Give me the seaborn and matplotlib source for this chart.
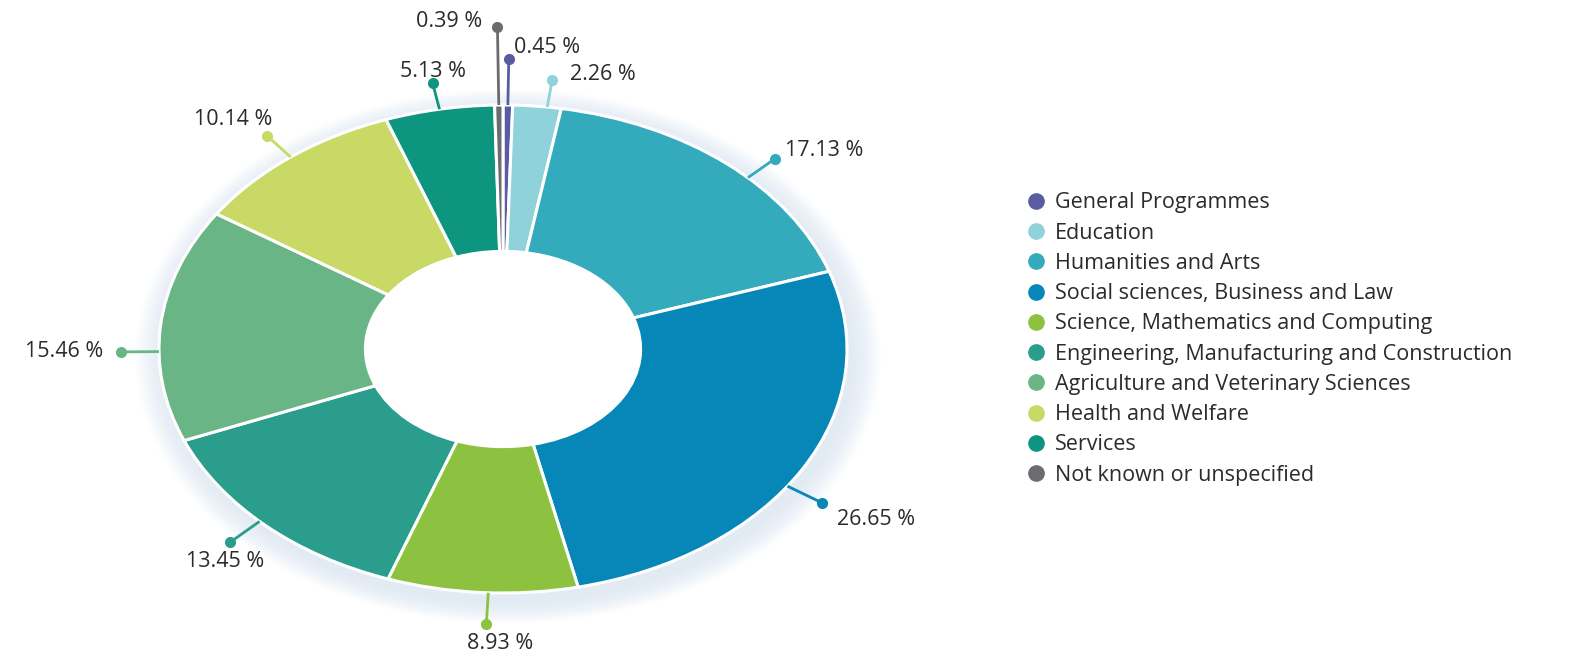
import numpy as np
import matplotlib.pyplot as plt
import seaborn as sns
from matplotlib.lines import Line2D
from matplotlib.patches import Ellipse

# Dados do gráfico (percentuais por área de estudo)
categorias = [
    "General Programmes",
    "Education",
    "Humanities and Arts",
    "Social sciences, Business and Law",
    "Science, Mathematics and Computing",
    "Engineering, Manufacturing and Construction",
    "Agriculture and Veterinary Sciences",
    "Health and Welfare",
    "Services",
    "Not known or unspecified",
]
valores = [0.45, 2.26, 17.13, 26.65, 8.93, 13.45, 15.46, 10.14, 5.13, 0.39]
rotulos = ["0.45 %", "2.26 %", "17.13 %", "26.65 %", "8.93 %",
           "13.45 %", "15.46 %", "10.14 %", "5.13 %", "0.39 %"]

cores = ["#5a5ca3", "#8fd2dc", "#34aabd", "#0787b8", "#8cc23f",
         "#2a9d8c", "#69b585", "#c8d966", "#0e957f", "#6b6c70"]

# Posição dos marcadores de rótulo: raio, desvio angular (graus, horário)
raio_rotulo = [1.19, 1.11, 1.11, 1.12, 1.13, 1.12, 1.11, 1.11, 1.11, 1.32]
desvio_ang = [0, 1.7, 4.8, 4.8, -1, 1.3, -6.4, 0, 0, 0]
# Deslocamento do texto em pontos e alinhamento
desloc_texto = [(4, 8), (13, 4), (7, 6), (11, -12), (10, -14),
                (-4, -14), (-13, 0), (4, 12), (0, 8), (-11, 4)]
alinh_texto = ["left", "left", "left", "left", "center",
               "center", "right", "right", "center", "right"]

sns.set_theme(style="white")
plt.rcParams["font.family"] = ["Open Sans", "DejaVu Sans"]

fig = plt.figure(figsize=(15.9, 6.56), dpi=100)
fig.patch.set_facecolor("white")
ax = fig.add_axes([159 / 1590, 63 / 656, 688 / 1590, 488 / 656])

# sombra azulada suave em volta da rosca
for k in range(12):
    r = 1.0 + 0.007 * (k + 1)
    ax.add_patch(Ellipse((0.015, -0.03), 2 * r, 2 * r * 1.01,
                         facecolor="#9cc6ea", edgecolor="none",
                         alpha=0.022, zorder=0, clip_on=False))

wedges, _ = ax.pie(
    valores,
    colors=cores,
    startangle=90,
    counterclock=False,
    radius=1.0,
    wedgeprops=dict(width=0.6, edgecolor="white", linewidth=2.2),
)
for w in wedges:
    w.set_zorder(2)

# miolo branco
ax.add_patch(Ellipse((0, 0), 0.8, 0.8, facecolor="white",
                     edgecolor="none", zorder=1))

for w, rot, cor, rr, dv, off, ha in zip(wedges, rotulos, cores, raio_rotulo,
                                        desvio_ang, desloc_texto, alinh_texto):
    ang = np.deg2rad((w.theta1 + w.theta2) / 2 - dv)
    x0, y0 = np.cos(ang), np.sin(ang)
    x1, y1 = rr * x0, rr * y0
    ax.plot([x0, x1], [y0, y1], color=cor, lw=2.0, clip_on=False,
            solid_capstyle="butt", zorder=3)
    ax.plot([x1], [y1], "o", color=cor, ms=7, clip_on=False, zorder=4)
    ax.annotate(rot, (x1, y1), xytext=off, textcoords="offset points",
                ha=ha, va="center", fontsize=15.5, color="#2b2b2b",
                annotation_clip=False)

ax.set_aspect("auto")
ax.set_xlim(-1, 1)
ax.set_ylim(-1, 1)
ax.axis("off")

handles = [Line2D([0], [0], marker="o", linestyle="none", markersize=11,
                  markerfacecolor=c, markeredgecolor=c) for c in cores]
fig.legend(handles, categorias, loc="upper left",
           bbox_to_anchor=(1008 / 1590, 1 - 173 / 656), frameon=False,
           fontsize=15.5, handlelength=0.8, handletextpad=0.5,
           labelspacing=0.43, labelcolor="#2b2b2b")

fig.savefig("out.png", dpi=100, facecolor="white")
plt.close(fig)
